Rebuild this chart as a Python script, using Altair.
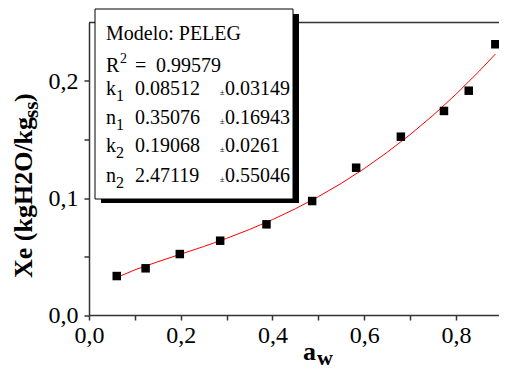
import altair as alt
import pandas as pd

# ---------------- data ----------------
AW = [0.0605, 0.1234, 0.198, 0.286, 0.387, 0.4866, 0.5825, 0.680, 0.774, 0.828, 0.886]
XE = [0.0333, 0.0399, 0.0521, 0.0635, 0.0775, 0.0974, 0.1259, 0.1524, 0.1744, 0.1917, 0.2314]

FIT_AW = [0.06, 0.10, 0.15, 0.20, 0.25, 0.30, 0.35, 0.40, 0.45, 0.50,
          0.55, 0.60, 0.65, 0.70, 0.75, 0.80, 0.85, 0.886]
FIT_XE = [0.0319, 0.0386, 0.0455, 0.0520, 0.0585, 0.0655, 0.0731, 0.0815, 0.0908, 0.1011,
          0.1125, 0.1251, 0.1390, 0.1541, 0.1706, 0.1886, 0.2080, 0.2230]

X_TICKS = [0.0, 0.1, 0.2, 0.3, 0.4, 0.5, 0.6, 0.7, 0.8]
Y_TICKS = [0.0, 0.05, 0.1, 0.15, 0.2]

MODEL_TITLE = "Modelo: PELEG"
R2_VALUE = "0.99579"
PARAM_NAMES = ["k", "n", "k", "n"]
PARAM_SUBS = ["1", "1", "2", "2"]
PARAM_VALUES = ["0.08512", "0.35076", "0.19068", "2.47119"]
PARAM_ERRORS = ["0.03149", "0.16943", "0.0261", "0.55046"]

Y_TITLE_MAIN = "Xe (kgH2O/kg"
Y_TITLE_SUB = "ss"
Y_TITLE_END = ")"
X_TITLE_MAIN = "a"
X_TITLE_SUB = "w"

# ---------------- layout ----------------
SERIF = "Liberation Serif, Times New Roman, Times, serif"
W, H = 410, 292.5
AXC = "#333333"

pts = pd.DataFrame({"aw": AW, "xe": XE})
fit = pd.DataFrame({"aw": FIT_AW, "xe": FIT_XE})

xscale = alt.Scale(domain=[0, 0.894], nice=False, zero=False)
yscale = alt.Scale(domain=[0, 0.25], nice=False, zero=False)

xaxis = alt.Axis(
    values=X_TICKS, title=None, grid=False,
    labelExpr="round(datum.value*10) % 2 == 0 ? replace(format(datum.value, '.1f'), '.', ',') : ''",
    labelFont=SERIF, labelFontSize=24, labelColor="black", labelPadding=3,
    labelFlush=False, labelOverlap=False,
    tickSize=5, tickColor=AXC, tickWidth=1.5, domainColor=AXC, domainWidth=1.5,
)
yaxis = alt.Axis(
    values=Y_TICKS, title=None, grid=False,
    labelExpr="round(datum.value*100) % 10 == 0 ? replace(format(datum.value, '.1f'), '.', ',') : ''",
    labelFont=SERIF, labelFontSize=24, labelColor="black", labelPadding=6,
    labelFlush=False, labelOverlap=False,
    tickSize=5, tickColor=AXC, tickWidth=1.5, domainColor=AXC, domainWidth=1.5,
)


def txt(s, x, y, size, bold=False, angle=0, align="left", baseline="alphabetic"):
    return alt.Chart(pd.DataFrame({"t": [s]})).mark_text(
        align=align, baseline=baseline, font=SERIF, fontSize=size,
        fontWeight="bold" if bold else "normal", angle=angle, color="black",
    ).encode(x=alt.value(x), y=alt.value(y), text="t:N")


top_rule = alt.Chart(pd.DataFrame({"a": [0]})).mark_rule(
    color=AXC, strokeWidth=1.5
).encode(x=alt.value(0), x2=alt.value(W), y=alt.value(0))

curve = alt.Chart(fit).mark_line(color="#ff0000", strokeWidth=1).encode(
    x=alt.X("aw:Q", scale=xscale, axis=xaxis),
    y=alt.Y("xe:Q", scale=yscale, axis=yaxis),
)

points = alt.Chart(pts).mark_square(size=72, color="black", opacity=1).encode(
    x=alt.X("aw:Q", scale=xscale, axis=xaxis),
    y=alt.Y("xe:Q", scale=yscale, axis=yaxis),
)

one = pd.DataFrame({"a": [0]})
shadow = alt.Chart(one).mark_rect(color="black").encode(
    x=alt.value(12), x2=alt.value(210), y=alt.value(-8.5), y2=alt.value(180.5)
)
box = alt.Chart(one).mark_rect(fill="white", stroke="black", strokeWidth=1).encode(
    x=alt.value(6), x2=alt.value(204), y=alt.value(-13.5), y2=alt.value(176.5)
)

LX, VX, PMX, EX = 17, 46, 131, 136
FS = 20
rows_y = [72.5, 101.5, 129.8, 159.2]

legend_layers = [
    txt(MODEL_TITLE, LX, 17.5, FS),
    txt("R", LX, 49.2, FS),
    txt("2", LX + 14, 40.5, 14),
    txt("=", VX, 49.2, FS),
    txt(R2_VALUE, 67, 49.2, FS),
]
for i in range(4):
    yy = rows_y[i]
    legend_layers += [
        txt(PARAM_NAMES[i], LX, yy, FS),
        txt(PARAM_SUBS[i], LX + 10, yy + 6, 16),
        txt(PARAM_VALUES[i], VX, yy, FS),
        txt("\u00b1", PMX, yy, 8),
        txt(PARAM_ERRORS[i], EX, yy, FS),
    ]

titles = [
    txt(Y_TITLE_MAIN, -57, 255.5, 26, bold=True, angle=270),
    txt(Y_TITLE_SUB, -51, 95.5, 21, bold=True, angle=270),
    txt(Y_TITLE_END, -57, 79.5, 26, bold=True, angle=270),
    txt(X_TITLE_MAIN, 214, 337.5, 26, bold=True),
    txt(X_TITLE_SUB, 228, 342.5, 22, bold=True),
]

chart = alt.layer(
    top_rule, curve, points, shadow, box, *legend_layers, *titles
).properties(
    width=W, height=H,
    autosize=alt.AutoSizeParams(type="none"),
    padding={"left": 81, "top": 14.5, "right": 0, "bottom": 54},
    background="white",
).configure_view(strokeWidth=0)

chart.save("out.html", embed_options={"renderer": "svg", "actions": False})
